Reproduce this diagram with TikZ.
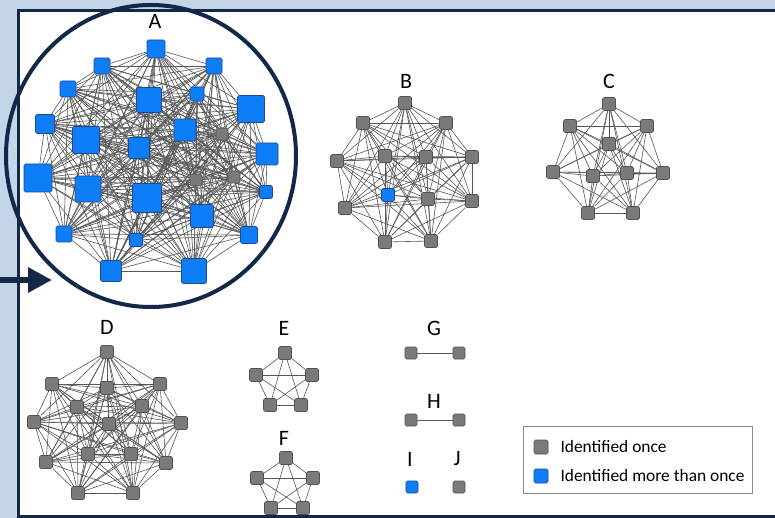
\documentclass[tikz,border=0pt]{standalone}
\usepackage{fontspec}
\setmainfont{Carlito}
\usetikzlibrary{positioning, arrows.meta}

\definecolor{bgblue}{RGB}{197,213,233}
\definecolor{navy}{RGB}{19,39,72}
\definecolor{idblue}{RGB}{14,126,248}
\definecolor{idblueline}{RGB}{28,72,150}

\pgfdeclarelayer{bg}
\pgfdeclarelayer{edges}
\pgfdeclarelayer{fg}
\pgfsetlayers{bg,edges,main,fg}

\begin{document}
\begin{tikzpicture}[
x=1pt, y=-1pt,
idonce/.style={rectangle, draw=black!68, fill=black!52, rounded corners=1.5pt, minimum size=13pt, inner sep=0pt, line width=0.6pt},
idmulti/.style={rectangle, draw=idblueline, fill=idblue, rounded corners=1.5pt, minimum size=13pt, inner sep=0pt, line width=0.6pt},
link/.style={draw=black!66, line width=0.6pt},
lbl/.style={font=\fontsize{22}{26}\selectfont, inner sep=0pt},
legtxt/.style={font=\fontsize{17.4}{20}\selectfont, inner sep=0pt, anchor=west},
legbox/.style={rectangle, draw=black!45, line width=0.8pt, minimum width=229pt, minimum height=67pt}
]
\useasboundingbox (0,0) rectangle (775,518);

\begin{pgfonlayer}{bg}
\fill[bgblue] (0,0) rectangle (775,518);
\fill[white] (18.5,11) rectangle (790,516.5);
\end{pgfonlayer}

%Nodes A
\node[idmulti, minimum size=18pt]	(a1)	at (156,49)		{};
\node[idmulti, minimum size=16pt]	(a2)	at (102,66)		{};
\node[idmulti, minimum size=16pt]	(a3)	at (214,66)		{};
\node[idmulti, minimum size=16pt]	(a4)	at (68,89)		{};
\node[idmulti, minimum size=25pt]	(a5)	at (149,100)	{};
\node[idmulti, minimum size=14pt]	(a6)	at (197,94)		{};
\node[idmulti, minimum size=27pt]	(a7)	at (251,109)	{};
\node[idmulti, minimum size=19pt]	(a8)	at (45,124)		{};
\node[idmulti, minimum size=27pt]	(a9)	at (86,140)		{};
\node[idmulti, minimum size=22pt]	(a10)	at (185,130)	{};
\node[idonce,  minimum size=12pt]	(a11)	at (222,134)	{};
\node[idmulti, minimum size=21pt]	(a12)	at (139,148)	{};
\node[idmulti, minimum size=22pt]	(a13)	at (267,154)	{};
\node[idmulti, minimum size=28pt]	(a14)	at (38,178)		{};
\node[idmulti, minimum size=26pt]	(a15)	at (88,189)		{};
\node[idmulti, minimum size=29pt]	(a16)	at (147,198)	{};
\node[idonce,  minimum size=12pt]	(a17)	at (196,180)	{};
\node[idonce,  minimum size=12pt]	(a18)	at (234,177)	{};
\node[idmulti, minimum size=13pt]	(a19)	at (266,192)	{};
\node[idmulti, minimum size=23pt]	(a20)	at (202,216)	{};
\node[idmulti, minimum size=16pt]	(a21)	at (64,234)		{};
\node[idmulti, minimum size=13pt]	(a22)	at (136,240)	{};
\node[idmulti, minimum size=17pt]	(a23)	at (249,235)	{};
\node[idmulti, minimum size=21pt]	(a24)	at (111,271)	{};
\node[idmulti, minimum size=25pt]	(a25)	at (194,271)	{};
\node[lbl]	(labA)	at (155,21)	{A};

%Nodes B
\node[idonce]	(b1)	at (405,103)	{};
\node[idonce]	(b2)	at (363,123)	{};
\node[idonce]	(b3)	at (446,123)	{};
\node[idonce]	(b4)	at (337,161)	{};
\node[idonce]	(b5)	at (385,156)	{};
\node[idonce]	(b6)	at (426,157)	{};
\node[idonce]	(b7)	at (472,157)	{};
\node[idmulti]	(b8)	at (388,195)	{};
\node[idonce]	(b9)	at (428,199)	{};
\node[idonce]	(b10)	at (472,201)	{};
\node[idonce]	(b11)	at (345,208)	{};
\node[idonce]	(b12)	at (385,242)	{};
\node[idonce]	(b13)	at (431,241)	{};
\node[lbl]	(labB)	at (406,81)	{B};

%Nodes C
\node[idonce]	(c1)	at (609,104)	{};
\node[idonce]	(c2)	at (570,126)	{};
\node[idonce]	(c3)	at (647,126)	{};
\node[idonce]	(c4)	at (609,144)	{};
\node[idonce]	(c5)	at (553,172)	{};
\node[idonce]	(c6)	at (593,176)	{};
\node[idonce]	(c7)	at (627,173)	{};
\node[idonce]	(c8)	at (663,173)	{};
\node[idonce]	(c9)	at (588,213)	{};
\node[idonce]	(c10)	at (633,213)	{};
\node[lbl]	(labC)	at (609,81)	{C};

%Nodes D
\node[idonce]	(d1)	at (107,352)	{};
\node[idonce]	(d2)	at (52,384)		{};
\node[idonce]	(d3)	at (107,388)	{};
\node[idonce]	(d4)	at (160,384)	{};
\node[idonce]	(d5)	at (77,407)		{};
\node[idonce]	(d6)	at (142,406)	{};
\node[idonce]	(d7)	at (34,422)		{};
\node[idonce]	(d8)	at (109,424)	{};
\node[idonce]	(d9)	at (181,423)	{};
\node[idonce]	(d10)	at (88,454)		{};
\node[idonce]	(d11)	at (131,454)	{};
\node[idonce]	(d12)	at (46,462)		{};
\node[idonce]	(d13)	at (166,463)	{};
\node[idonce]	(d14)	at (78,493)		{};
\node[idonce]	(d15)	at (133,493)	{};
\node[lbl]	(labD)	at (107,327)	{D};

%Nodes E, F
\node[idonce]	(e1)	at (285,353)	{};
\node[idonce]	(e2)	at (256,375)	{};
\node[idonce]	(e3)	at (312,375)	{};
\node[idonce]	(e4)	at (270,405)	{};
\node[idonce]	(e5)	at (301,405)	{};
\node[lbl]	(labE)	at (284,328)	{E};
\node[idonce]	(f1)	at (286,458)	{};
\node[idonce]	(f2)	at (257,478)	{};
\node[idonce]	(f3)	at (313,478)	{};
\node[idonce]	(f4)	at (271,508)	{};
\node[idonce]	(f5)	at (303,508)	{};
\node[lbl]	(labF)	at (284,438)	{F};

%Nodes G, H, I, J
\node[idonce, minimum size=12pt]	(g1)	at (411,353)	{};
\node[idonce, minimum size=12pt]	(g2)	at (459,353)	{};
\node[lbl]	(labG)	at (434,328)	{G};
\node[idonce, minimum size=12pt]	(h1)	at (411,420)	{};
\node[idonce, minimum size=12pt]	(h2)	at (459,420)	{};
\node[lbl]	(labH)	at (434,401)	{H};
\node[idmulti, minimum size=12pt]	(i1)	at (412,487)	{};
\node[lbl]	(labI)	at (410,459)	{I};
\node[idonce, minimum size=12pt]	(j1)	at (459,487)	{};
\node[lbl]	(labJ)	at (457,459)	{J};

%Legend
\node[legbox]	(legend)	at (637.5,459.5)	{};
\node[idonce, minimum size=14pt]	(keyonce)	at (541,447)	{};
\node[idmulti, minimum size=14pt]	(keymulti)	at (541,476)	{};
\node[legtxt]	(txtonce)	[right=12pt of keyonce]		{Identified once};
\node[legtxt]	(txtmulti)	[right=12pt of keymulti]	{Identified more than once};

%Lines
\begin{pgfonlayer}{edges}
\foreach \i in {1,...,24}{\pgfmathtruncatemacro{\k}{\i+1}\foreach \j in {\k,...,25}{\draw[link] (a\i) -- (a\j);}}
\foreach \i in {1,...,12}{\pgfmathtruncatemacro{\k}{\i+1}\foreach \j in {\k,...,13}{\draw[link] (b\i) -- (b\j);}}
\foreach \i in {1,...,9}{\pgfmathtruncatemacro{\k}{\i+1}\foreach \j in {\k,...,10}{\draw[link] (c\i) -- (c\j);}}
\foreach \i in {1,...,14}{\pgfmathtruncatemacro{\k}{\i+1}\foreach \j in {\k,...,15}{\draw[link] (d\i) -- (d\j);}}
\foreach \i in {1,...,4}{\pgfmathtruncatemacro{\k}{\i+1}\foreach \j in {\k,...,5}{\draw[link] (e\i) -- (e\j); \draw[link] (f\i) -- (f\j);}}
\draw[link] (g1) -- (g2);
\draw[link] (h1) -- (h2);
\end{pgfonlayer}

%Frame, circle, arrow
\begin{pgfonlayer}{fg}
\draw[navy, line width=3pt] (18.5,11) rectangle (790,516.5);
\draw[navy, line width=4pt] (151,156) ellipse [x radius=145pt, y radius=151pt];
\coordinate (arrtail) at (0,280);
\coordinate (arrtip) at (52,280);
\draw[navy, line width=6pt, -{Triangle[length=24pt, width=24pt]}] (arrtail) -- (arrtip);
\end{pgfonlayer}

\end{tikzpicture}
\end{document}
